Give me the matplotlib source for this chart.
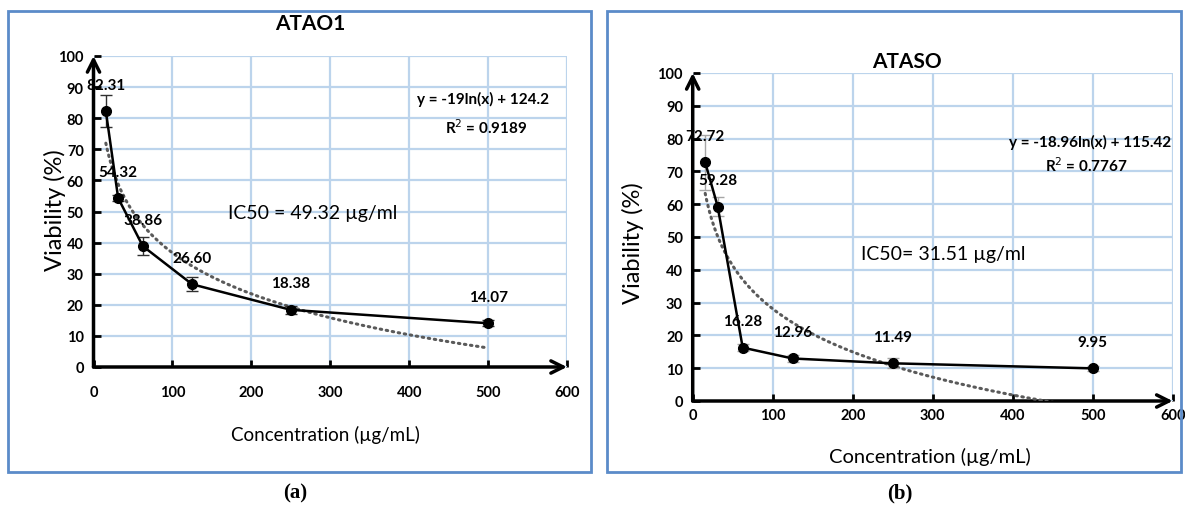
import numpy as np
import matplotlib
matplotlib.use("Agg")
import matplotlib.pyplot as plt
from matplotlib.patches import Rectangle

# ---------------- data ----------------
concentration = [15.625, 31.25, 62.5, 125, 250, 500]

atao1_title = "ATAO1"
atao1_viability = [82.31, 54.32, 38.86, 26.60, 18.38, 14.07]
atao1_err = [5.0, 1.0, 2.8, 2.3, 1.2, 1.0]
atao1_fit = (-19.0, 124.2)
atao1_eq = "y = -19ln(x) + 124.2"
atao1_r2 = "R$^2$ = 0.9189"
atao1_ic50 = "IC50 = 49.32 µg/ml"

ataso_title = "ATASO"
ataso_viability = [72.72, 59.28, 16.28, 12.96, 11.49, 9.95]
ataso_err = [8.3, 3.0, 1.0, 1.0, 1.5, 0.7]
ataso_fit = (-18.96, 115.42)
ataso_eq = "y = -18.96ln(x) + 115.42"
ataso_r2 = "R$^2$ = 0.7767"
ataso_ic50 = "IC50= 31.51 µg/ml"

x_ticks = [0, 100, 200, 300, 400, 500, 600]
y_ticks = [0, 10, 20, 30, 40, 50, 60, 70, 80, 90, 100]

# ---------------- style ----------------
W, H = 1185, 510
FONT = ["Lato", "DejaVu Sans"]
plt.rcParams["font.family"] = FONT
GRID = "#bcd4ec"
BOX = "#5b8bc9"

fig = plt.figure(figsize=(W / 100, H / 100), dpi=100)


def px_rect(x0, y0, x1, y1):
    return [x0 / W, 1 - y1 / H, (x1 - x0) / W, (y1 - y0) / H]


def frame(x0, y0, x1, y1):
    r = Rectangle((x0 / W, 1 - y1 / H), (x1 - x0) / W, (y1 - y0) / H,
                  transform=fig.transFigure, fill=False, edgecolor=BOX, lw=2.0)
    fig.add_artist(r)


frame(8, 12, 591, 473)
frame(607, 12, 1181, 473)


def panel(rect, title, title_xy, vals, errs, fit, eq, r2, eq_xy, r2_xy, ic50, ic_xy,
          ylab_xy, xlab_xy, xlab_size, xpad, err_color, trend_xmax):
    ax = fig.add_axes(rect)
    ax.set_xlim(0, 600)
    ax.set_ylim(0, 100)
    ax.set_xticks(x_ticks)
    ax.set_yticks(y_ticks)
    ax.grid(True, color=GRID, lw=1.6)
    ax.set_axisbelow(True)
    for s in ax.spines.values():
        s.set_visible(False)
    ax.tick_params(axis="both", direction="in", length=5, width=2, color="black",
                   labelsize=10.5)
    ax.tick_params(axis="y", pad=7)
    ax.tick_params(axis="x", pad=xpad)
    for lab in ax.get_xticklabels() + ax.get_yticklabels():
        lab.set_fontweight("bold")
    # axis arrows
    ax.annotate("", xy=(0, 1.0), xytext=(0, 0), xycoords="axes fraction",
                arrowprops=dict(arrowstyle="->", lw=2.5, color="black",
                                mutation_scale=22, shrinkA=0, shrinkB=0))
    ax.annotate("", xy=(1.0, 0), xytext=(0, 0), xycoords="axes fraction",
                arrowprops=dict(arrowstyle="->", lw=2.5, color="black",
                                mutation_scale=22, shrinkA=0, shrinkB=0))
    # logarithmic trend line from the fitted equation
    xt = np.linspace(concentration[0], trend_xmax, 300)
    yt = fit[0] * np.log(xt) + fit[1]
    ax.plot(xt, yt, color="#5a5a5a", lw=2.2, linestyle=(0, (0.5, 1.5)),
            dash_capstyle="round", zorder=3)
    # data
    ax.errorbar(concentration, vals, yerr=errs, fmt="none", ecolor=err_color,
                elinewidth=1.0, capsize=4, capthick=1.0, zorder=4)
    ax.plot(concentration, vals, color="black", lw=1.8, marker="o", ms=7,
            zorder=5)
    for x, v in zip(concentration, vals):
        ax.annotate(f"{v:.2f}", (x, v), xytext=(0, 19), textcoords="offset points",
                    ha="center", va="center", fontsize=11, fontweight="bold",
                    zorder=6)
    ax.text(*title_xy, title, transform=ax.transAxes, ha="center", va="center",
            fontsize=15, fontweight="bold")
    ax.text(*eq_xy, eq, transform=ax.transAxes, ha="center", va="center",
            fontsize=11, fontweight="bold")
    ax.text(*r2_xy, r2, transform=ax.transAxes, ha="center", va="center",
            fontsize=11, fontweight="bold")
    ax.text(*ic_xy, ic50, transform=ax.transAxes, ha="center", va="center",
            fontsize=14)
    ax.set_ylabel("Viability (%)", fontsize=17)
    ax.yaxis.set_label_coords(*ylab_xy)
    ax.set_xlabel("Concentration (µg/mL)", fontsize=xlab_size)
    ax.xaxis.set_label_coords(*xlab_xy)
    ax.xaxis.label.set_va("center")
    ax.yaxis.label.set_va("center")
    return ax


# left panel: x0=93.5 px, x600=567 px, y0=368 px, y100=57 px
axL = panel(px_rect(93.5, 57, 567, 368), atao1_title, (0.457, 1.106),
            atao1_viability, atao1_err, atao1_fit, atao1_eq, atao1_r2,
            (0.823, 0.865), (0.830, 0.772), atao1_ic50, (0.4636, 0.498),
            (-0.081, 0.508), (0.489, -0.215), 13.5, 13, "#303030", 500)

# right panel: x0=692.7, x600=1172.7, y0=402, y100=74
axR = panel(px_rect(692.7, 74, 1172.7, 402), ataso_title, (0.446, 1.037),
            ataso_viability, ataso_err, ataso_fit, ataso_eq, ataso_r2,
            (0.827, 0.79), (0.82, 0.72), ataso_ic50, (0.522, 0.451),
            (-0.124, 0.485), (0.494, -0.168), 14.5, 5, "#a6a6a6", 500)

fig.text(295 / W, 1 - 493 / H, "(a)", ha="center", va="center",
         fontsize=15, fontweight="bold", family="Liberation Serif")
fig.text(900 / W, 1 - 493 / H, "(b)", ha="center", va="center",
         fontsize=15, fontweight="bold", family="Liberation Serif")

fig.savefig("out.png", dpi=100)
